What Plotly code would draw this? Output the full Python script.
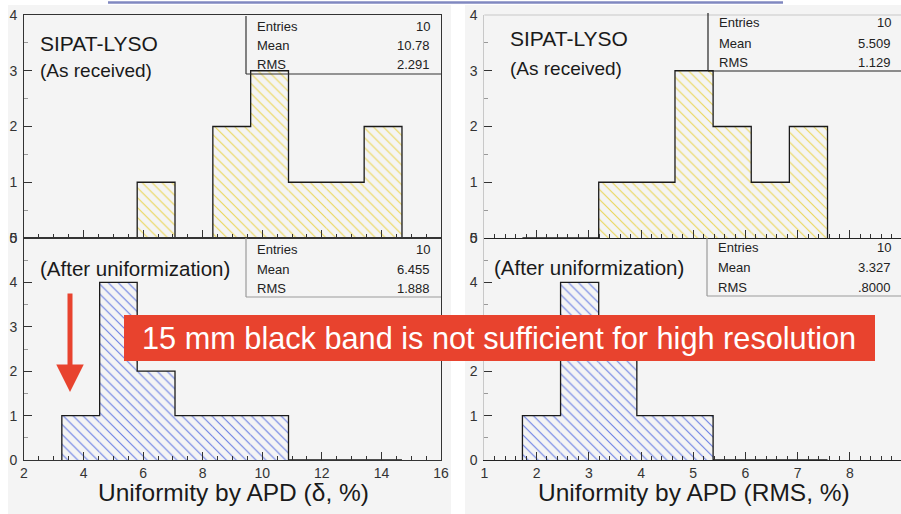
import plotly.graph_objects as go

# ---- histogram data -------------------------------------------------------
# bin edges (shared by the two histograms of each column)
delta_edges = [3.27, 4.54, 5.80, 7.07, 8.34, 9.61, 10.88, 12.15, 13.42, 14.69]
delta_received = [0, 0, 1, 0, 2, 3, 1, 1, 2]
delta_uniformized = [1, 4, 2, 1, 1, 1, 0, 0, 0]

rms_edges = [1.73, 2.46, 3.19, 3.92, 4.65, 5.38, 6.11, 6.84, 7.57]
rms_received = [0, 0, 1, 1, 3, 2, 1, 2]
rms_uniformized = [1, 4, 3, 1, 1, 0, 0, 0]

# statistics boxes: (entries, mean, rms)
stat_labels = ["Entries", "Mean", "RMS"]
stats_delta_received = ["10", "10.78", "2.291"]
stats_delta_uniformized = ["10", "6.455", "1.888"]
stats_rms_received = ["10", "5.509", "1.129"]
stats_rms_uniformized = ["10", "3.327", ".8000"]

W, H = 901, 514
FONT = "Liberation Sans, Arial, Helvetica, sans-serif"
PANEL_BG = "#F4F4F4"
YELLOW = "#EBD759"
BLUE = "#6B7FE4"
RED = "#E8432E"


def px(x):
    return x / W


def py(y):
    return 1 - y / H


fig = go.Figure()


def add_hist(edges, counts, xa, ya, hatch):
    centers = [(a + b) / 2 for a, b in zip(edges[:-1], edges[1:])]
    widths = [b - a for a, b in zip(edges[:-1], edges[1:])]
    fig.add_trace(go.Bar(
        x=centers, y=counts, width=widths, xaxis=xa, yaxis=ya,
        marker=dict(color=PANEL_BG, line=dict(width=0),
                    pattern=dict(shape="\\", fgcolor=hatch,
                                 bgcolor=PANEL_BG,
                                 size=7, solidity=0.16)),
        hoverinfo="skip", showlegend=False))
    # step outline of the histogram
    xs = [edges[0]] + list(edges) + [edges[-1]]
    ys = [0] + list(counts) + [counts[-1], 0]
    fig.add_trace(go.Scatter(
        x=xs, y=ys, xaxis=xa, yaxis=ya, mode="lines",
        line=dict(shape="hv", color="#1a1a1a", width=1.3),
        hoverinfo="skip", showlegend=False))


add_hist(delta_edges, delta_received, "x", "y", YELLOW)
add_hist(delta_edges, delta_uniformized, "x2", "y2", BLUE)
add_hist(rms_edges, rms_received, "x3", "y3", YELLOW)
add_hist(rms_edges, rms_uniformized, "x4", "y4", BLUE)

left_dom = [px(24), px(441)]
right_dom = [px(484.3), 1.0]
top_dom = [py(238), py(15)]
bot_dom = [py(460), py(238)]
right_max = 1 + (W - 484.3) / 52.24

tickfont = dict(family=FONT, size=14, color="#333")


def xax(dom, rng, dtick, minor, labels, color, anchor):
    return dict(domain=dom, range=rng, dtick=dtick, tick0=0, anchor=anchor,
                automargin=False,
                showgrid=False, zeroline=False, showline=True,
                linecolor=color, linewidth=1, mirror=(color == "#333"),
                ticks="inside", ticklen=8, tickcolor="#333", tickwidth=1,
                minor=dict(ticks="inside", ticklen=4, dtick=minor,
                           tickcolor="#333", showgrid=False),
                showticklabels=labels, tickfont=tickfont, fixedrange=True)


def yax(dom, rng, color, mirror, anchor):
    return dict(domain=dom, range=rng, dtick=1, tick0=0, anchor=anchor,
                automargin=False,
                showgrid=False, zeroline=False, showline=True,
                linecolor=color, linewidth=1, mirror=mirror,
                ticks="inside", ticklen=8, tickcolor="#333", tickwidth=1,
                minor=dict(ticks="inside", ticklen=4, dtick=0.5,
                           tickcolor="#999", showgrid=False),
                tickfont=tickfont, ticklabelstandoff=3, fixedrange=True)


fig.update_layout(
    template="none",
    width=W, height=H, autosize=False,
    margin=dict(l=0, r=0, t=0, b=0, pad=0),
    paper_bgcolor="white", plot_bgcolor="rgba(0,0,0,0)",
    barmode="overlay", showlegend=False,
    font=dict(family=FONT, color="#222"),
    xaxis=xax(left_dom, [2, 16], 2, 0.5, False, "#333", "y"),
    xaxis2=xax(left_dom, [2, 16], 2, 0.5, True, "#333", "y2"),
    xaxis3=xax(right_dom, [1, right_max], 1, 0.2, False, "#222", "y3"),
    xaxis4=xax(right_dom, [1, right_max], 1, 0.2, True, "#222", "y4"),
    yaxis=yax(top_dom, [0, 4], "#333", True, "x"),
    yaxis2=yax(bot_dom, [0, 5], "#333", True, "x2"),
    yaxis3=yax(top_dom, [0, 4], "#C8C8C8", False, "x3"),
    yaxis4=yax(bot_dom, [0, 5], "#C8C8C8", False, "x4"),
)

shapes = []
# panel backgrounds
for x0, x1 in [(8, 451), (465, W)]:
    shapes.append(dict(type="rect", xref="paper", yref="paper",
                       x0=px(x0), x1=px(x1), y0=py(H), y1=py(5),
                       fillcolor=PANEL_BG, line=dict(width=0), layer="below"))
# thin rule across the top
shapes.append(dict(type="line", xref="paper", yref="paper",
                   x0=px(108), x1=px(783), y0=py(2.5), y1=py(2.5),
                   line=dict(color="#8088C0", width=2.5)))
# top border of the upper right frame
shapes.append(dict(type="line", xref="paper", yref="paper",
                   x0=right_dom[0], x1=1, y0=top_dom[1], y1=top_dom[1],
                   line=dict(color="#C8C8C8", width=1)))

annotations = []


def stat_box(x0, x1, y0, y1, rows_y, values, color):
    shapes.append(dict(type="line", xref="paper", yref="paper",
                       x0=px(x0), x1=px(x0), y0=py(y0), y1=py(y1),
                       line=dict(color=color, width=1.2)))
    shapes.append(dict(type="line", xref="paper", yref="paper",
                       x0=px(x0), x1=px(x1), y0=py(y1), y1=py(y1),
                       line=dict(color=color, width=1.2)))
    for lab, val, yy in zip(stat_labels, values, rows_y):
        annotations.append(dict(x=px(x0 + 9), y=py(yy), xref="paper",
                                yref="paper", text=lab, showarrow=False,
                                xanchor="left", yanchor="middle",
                                font=dict(size=13, color="#222")))
        annotations.append(dict(x=px(x1 - 9), y=py(yy), xref="paper",
                                yref="paper", text=val, showarrow=False,
                                xanchor="right", yanchor="middle",
                                font=dict(size=13, color="#222")))


stat_box(246, 441, 16, 74, [26, 45, 64.5], stats_delta_received, "#333")
stat_box(246, 441, 238, 297, [249, 269, 288], stats_delta_uniformized, "#999")
stat_box(708, 902, 13, 71, [23, 43, 62], stats_rms_received, "#222")
stat_box(707, 902, 238, 296, [247, 267, 287], stats_rms_uniformized, "#999")


def label(x, y, text, size):
    annotations.append(dict(x=px(x), y=py(y), xref="paper", yref="paper",
                            text=text, showarrow=False, xanchor="left",
                            yanchor="middle",
                            font=dict(size=size, color="#1a1a1a")))


label(38, 43, "SIPAT-LYSO", 21)
label(38, 71, "(As received)", 19)
label(38, 268, "(After uniformization)", 20.5)
label(508, 39, "SIPAT-LYSO", 21)
label(508, 69, "(As received)", 19)
label(492, 267, "(After uniformization)", 20.5)

# axis titles
for xc, text in [(233, "Uniformity by APD (δ, %)"),
                 (693.5, "Uniformity by APD (RMS, %)")]:
    annotations.append(dict(x=px(xc), y=py(492), xref="paper", yref="paper",
                            text=text, showarrow=False, xanchor="center",
                            yanchor="middle",
                            font=dict(size=24.5, color="#1a1a1a")))

# banner
shapes.append(dict(type="rect", xref="paper", yref="paper",
                   x0=px(124), x1=px(875), y0=py(361), y1=py(315),
                   fillcolor=RED, line=dict(width=0), layer="above"))
annotations.append(dict(x=px(499.5), y=py(338.5), xref="paper", yref="paper",
                        text="15 mm black band is not sufficient for high resolution",
                        showarrow=False, xanchor="center", yanchor="middle",
                        font=dict(size=30.7, color="white")))

# downward arrow
annotations.append(dict(x=px(70), y=py(392), xref="paper", yref="paper",
                        ax=0, ay=-100, text="", showarrow=True,
                        arrowhead=2, arrowsize=1.1, arrowwidth=5,
                        arrowcolor=RED))

fig.update_layout(shapes=shapes, annotations=annotations)
fig.write_html("out.html", config={"responsive": False})
